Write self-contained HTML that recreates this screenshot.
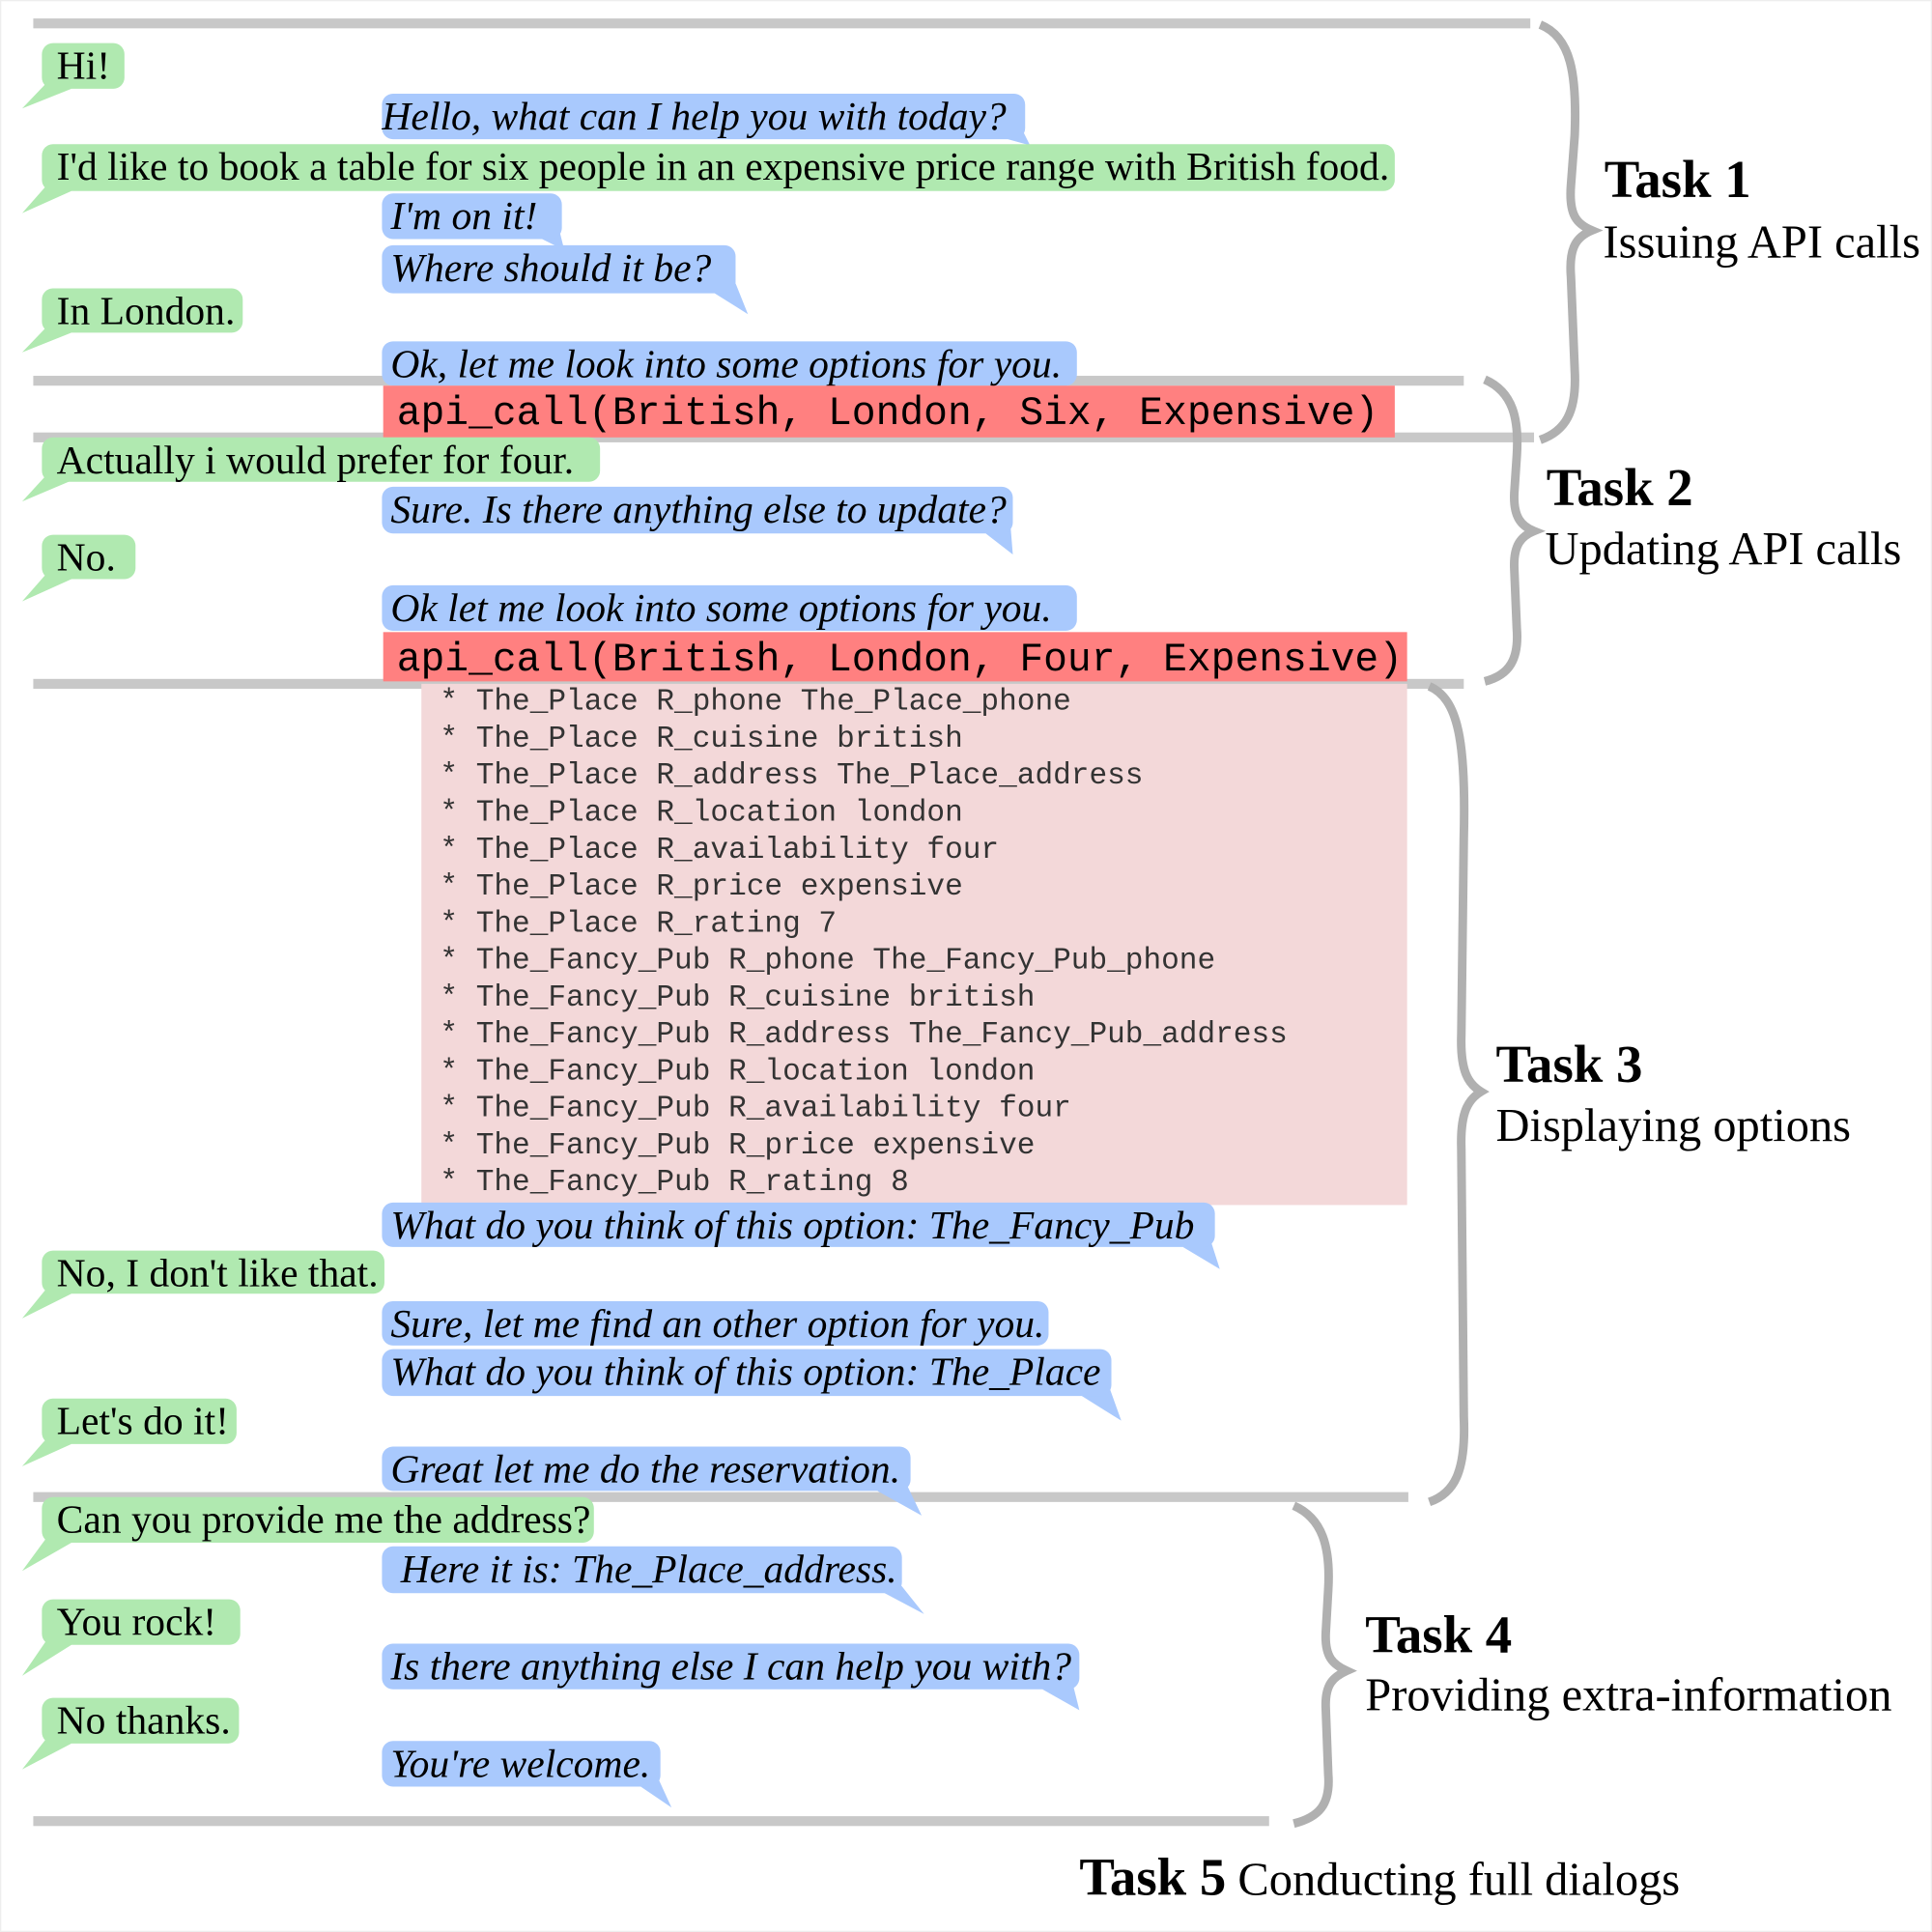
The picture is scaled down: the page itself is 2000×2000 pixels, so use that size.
<!DOCTYPE html>
<html><head><meta charset="utf-8"><style>
html,body{margin:0;padding:0;background:#fff;}
#wrap{position:relative;width:2000px;height:2000px;overflow:hidden;background:#fff;}
#c{position:absolute;left:0;top:0;width:1568px;height:1568px;transform:scale(1.27551);transform-origin:0 0;font-family:"Liberation Serif",serif;}
.b{position:absolute;height:37px;line-height:39px;font-size:32.6px;padding-left:12px;box-sizing:border-box;border-radius:9px;white-space:nowrap;color:#000;}
.g{background:#b0e9b0;left:34px;}
.u{background:#a9c9fd;left:310px;font-style:italic;padding-left:7px;}
.r{position:absolute;left:311px;background:#ff8080;font-family:"Liberation Mono",monospace;font-size:32.4px;line-height:46px;height:42px;padding-left:11px;box-sizing:border-box;white-space:pre;}
.sep{position:absolute;left:27px;height:8px;background:#c8c8c8;}
.pk{position:absolute;left:342px;top:555px;width:800px;height:423px;background:#f3d8d9;}
.ml{position:absolute;left:357px;font-family:"Liberation Mono",monospace;font-size:24.4px;color:#333;white-space:pre;line-height:30px;}
.t{position:absolute;white-space:nowrap;}
.tb{font-weight:bold;font-size:43px;}
.ts{font-size:38px;}
svg{position:absolute;left:0;top:0;}
</style></head><body><div id="wrap"><div id="c">
<div style="position:absolute;left:0;top:0;width:1566px;height:1566px;border:1px solid #eee;"></div>
<div class="sep" style="top:15px;width:1215px"></div>
<div class="sep" style="top:305px;width:1161px"></div>
<div class="sep" style="top:351px;width:1218px"></div>
<div class="sep" style="top:551px;width:1161px"></div>
<div class="sep" style="top:1211px;width:1116px"></div>
<div class="sep" style="top:1474px;width:1003px"></div>

<svg width="1568" height="1568">
<g fill="#b0e9b0">
<polygon points="40,65 58,72 18,88"/>
<polygon points="40,148 58,155 18,173"/>
<polygon points="40,263 58,270 18,286"/>
<polygon points="40,383 58,390 18,407"/>
<polygon points="40,463 58,470 18,488"/>
<polygon points="40,1043 58,1050 18,1070"/>
<polygon points="40,1165 58,1172 18,1190"/>
<polygon points="40,1245 58,1252 18,1275"/>
<polygon points="40,1328 58,1335 18,1360"/>
<polygon points="40,1408 58,1415 18,1436"/>
</g>
<g fill="#a9c9fd">
<polygon points="818,113 830,106 836,118"/>
<polygon points="440,194 454,187 458,203"/>
<polygon points="580,238 597,230 607,255"/>
<polygon points="800,433 820,425 822,450"/>
<polygon points="960,1012 982,1005 990,1030"/>
<polygon points="878,1133 900,1125 910,1153"/>
<polygon points="712,1210 735,1203 748,1230"/>
<polygon points="718,1293 730,1285 750,1310"/>
<polygon points="846,1371 870,1364 876,1388"/>
<polygon points="520,1450 534,1443 545,1467"/>
</g>
<g fill="none" stroke="#b0b0b0" stroke-width="7">
<path d="M1250,20 C1275,30 1280,60 1278,110 L1275,150 C1273,175 1280,182 1292,187 C1280,192 1273,200 1275,225 L1278,300 C1280,335 1270,350 1250,357"/>
<path d="M1205,308 C1228,318 1233,340 1231,370 L1229,400 C1228,420 1235,427 1245,431 C1235,435 1228,442 1229,462 L1231,510 C1233,535 1225,548 1205,553"/>
<path d="M1160,557 C1183,567 1190,600 1188,680 L1186,840 C1185,870 1192,880 1202,886 C1192,892 1185,902 1186,932 L1188,1150 C1190,1195 1180,1212 1160,1219"/>
<path d="M1050,1222 C1073,1232 1080,1255 1078,1290 L1076,1325 C1075,1345 1082,1351 1093,1356 C1082,1361 1075,1367 1076,1387 L1078,1440 C1080,1465 1070,1475 1050,1480"/>
</g>
</svg>

<div class="b g" style="top:35px;width:67px">Hi!</div>
<div class="b u" style="top:76px;width:522px;padding-left:0">Hello, what can I help you with today?</div>
<div class="b g" style="top:117px;width:1098px;height:38px">I'd like to book a table for six people in an expensive price range with British food.</div>
<div class="b u" style="top:157px;width:146px">I'm on it!</div>
<div class="b u" style="top:199px;width:287px;height:39px">Where should it be?</div>
<div class="b g" style="top:234px;width:163px;height:36px">In London.</div>
<div class="b u" style="top:277px;width:564px;height:36px">Ok, let me look into some options for you.</div>
<div class="r" style="top:313px;width:821px">api_call(British, London, Six, Expensive)</div>
<div class="b g" style="top:355px;width:453px;height:36px">Actually i would prefer for four.</div>
<div class="b u" style="top:395px;width:512px;height:38px">Sure. Is there anything else to update?</div>
<div class="b g" style="top:434px;width:76px;height:36px">No.</div>
<div class="b u" style="top:475px;width:564px">Ok let me look into some options for you.</div>
<div class="r" style="top:513px;width:831px;height:40px">api_call(British, London, Four, Expensive)</div>
<div class="pk"></div>
<div class="ml" style="top:556px">* The_Place R_phone The_Place_phone
* The_Place R_cuisine british
* The_Place R_address The_Place_address
* The_Place R_location london
* The_Place R_availability four
* The_Place R_price expensive
* The_Place R_rating 7
* The_Fancy_Pub R_phone The_Fancy_Pub_phone
* The_Fancy_Pub R_cuisine british
* The_Fancy_Pub R_address The_Fancy_Pub_address
* The_Fancy_Pub R_location london
* The_Fancy_Pub R_availability four
* The_Fancy_Pub R_price expensive
* The_Fancy_Pub R_rating 8</div>
<div class="b u" style="top:976px;width:676px;height:36px">What do you think of this option: The_Fancy_Pub</div>
<div class="b g" style="top:1015px;width:278px;height:35px">No, I don't like that.</div>
<div class="b u" style="top:1056px;width:541px;height:36px">Sure, let me find an other option for you.</div>
<div class="b u" style="top:1095px;width:592px;height:38px">What do you think of this option: The_Place</div>
<div class="b g" style="top:1135px;width:158px">Let's do it!</div>
<div class="b u" style="top:1174px;width:429px;height:36px">Great let me do the reservation.</div>
<div class="b g" style="top:1215px;width:448px">Can you provide me the address?</div>
<div class="b u" style="top:1255px;width:422px;height:38px">&nbsp;Here it is: The_Place_address.</div>
<div class="b g" style="top:1298px;width:161px">You rock!</div>
<div class="b u" style="top:1334px;width:566px">Is there anything else I can help you with?</div>
<div class="b g" style="top:1378px;width:160px">No thanks.</div>
<div class="b u" style="top:1413px;width:226px">You're welcome.</div>

<div class="t tb" style="left:1302px;top:122px">Task 1</div>
<div class="t ts" style="left:1301px;top:175px">Issuing API calls</div>
<div class="t tb" style="left:1255px;top:372px">Task 2</div>
<div class="t ts" style="left:1254px;top:424px">Updating API calls</div>
<div class="t tb" style="left:1214px;top:840px">Task 3</div>
<div class="t ts" style="left:1214px;top:892px">Displaying options</div>
<div class="t tb" style="left:1108px;top:1303px">Task 4</div>
<div class="t ts" style="left:1108px;top:1354px">Providing extra-information</div>
<div class="t" style="left:876px;top:1500px;font-size:38px"><b style="font-size:43px">Task 5</b> Conducting full dialogs</div>
</div></div></body></html>
